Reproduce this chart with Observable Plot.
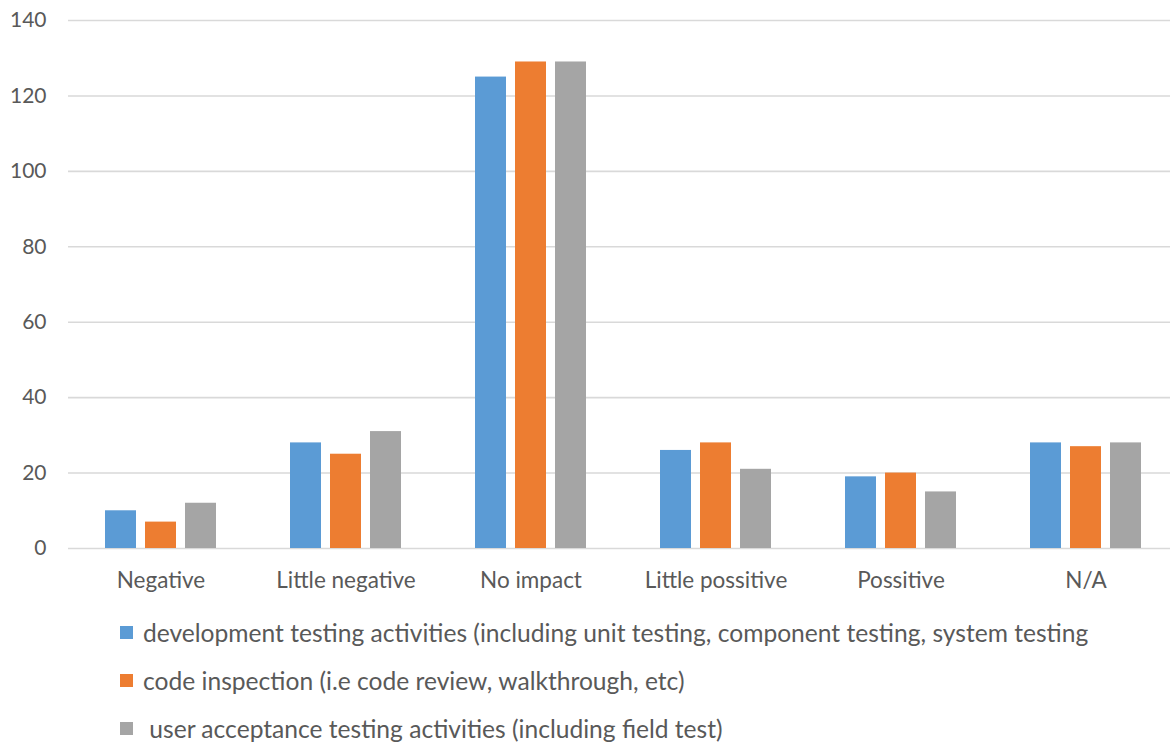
<!DOCTYPE html>
<html>
<head>
<meta charset="utf-8">
<script src="https://cdn.jsdelivr.net/npm/d3@7"></script>
<script src="https://cdn.jsdelivr.net/npm/@observablehq/plot@0.6"></script>
<style>
  html, body { margin: 0; padding: 0; background: #fff; overflow: hidden; }
  body { width: 1170px; height: 742px; position: relative; font-family: Lato, "Open Sans", sans-serif; }
  #legend { position: absolute; left: 120px; top: 618px; color: #595959; font-size: 24.6px; }
  .item { display: flex; align-items: center; height: 28px; margin-bottom: 20px; white-space: pre; }
  .sw { width: 13px; height: 13px; margin-right: 10px; flex: none; }
</style>
</head>
<body>
<div id="chart"></div>
<div id="legend"></div>
<script>
const categories = ["Negative", "Little negative", "No impact", "Little possitive", "Possitive", "N/A"];
const seriesNames = [
  "development testing activities (including unit testing, component testing, system testing",
  "code inspection (i.e code review, walkthrough, etc)",
  " user acceptance testing activities (including field test)"
];
const seriesColors = ["#5b9bd5", "#ed7d31", "#a5a5a5"];
const devTesting = [10, 28, 125, 26, 19, 28];
const codeInspection = [7, 25, 129, 28, 20, 27];
const userAcceptance = [12, 31, 129, 21, 15, 28];
const yTicks = [0, 20, 40, 60, 80, 100, 120, 140];

const seriesValues = [devTesting, codeInspection, userAcceptance];
const data = [];
categories.forEach((c, i) => {
  seriesValues.forEach((vals, s) => {
    data.push({category: c, series: seriesNames[s], value: vals[i]});
  });
});

const plot = Plot.plot({
  width: 1170,
  height: 600,
  marginTop: 20,
  marginBottom: 52,
  marginLeft: 68,
  marginRight: 0,
  style: {fontFamily: "Lato, 'Open Sans', sans-serif", fontSize: "21px", color: "#595959", background: "#fff"},
  fx: {domain: categories, range: [68, 1178], padding: 0, label: null, axis: null},
  x: {domain: seriesNames, paddingInner: 0.2195, paddingOuter: 0.866, axis: null},
  y: {domain: [0, 140], ticks: yTicks, label: null, axis: null},
  color: {domain: seriesNames, range: seriesColors},
  marks: [
    Plot.ruleY(yTicks, {stroke: "#d9d9d9", strokeWidth: 1.6}),
    Plot.barY(data, {fx: "category", x: "series", y: "value", fill: "series", inset: 0}),
    Plot.axisY({ticks: yTicks, tickSize: 0, tickPadding: 22, fontSize: 21, fill: "#595959", label: null}),
    Plot.axisFx({anchor: "bottom", tickSize: 0, tickPadding: 24, fontSize: 22.5, fill: "#595959", label: null})
  ]
});
document.getElementById("chart").appendChild(plot);

const legend = document.getElementById("legend");
seriesNames.forEach((name, i) => {
  const item = document.createElement("div");
  item.className = "item";
  const sw = document.createElement("span");
  sw.className = "sw";
  sw.style.background = seriesColors[i];
  const t = document.createElement("span");
  t.textContent = name;
  item.appendChild(sw);
  item.appendChild(t);
  legend.appendChild(item);
});
</script>
</body>
</html>
